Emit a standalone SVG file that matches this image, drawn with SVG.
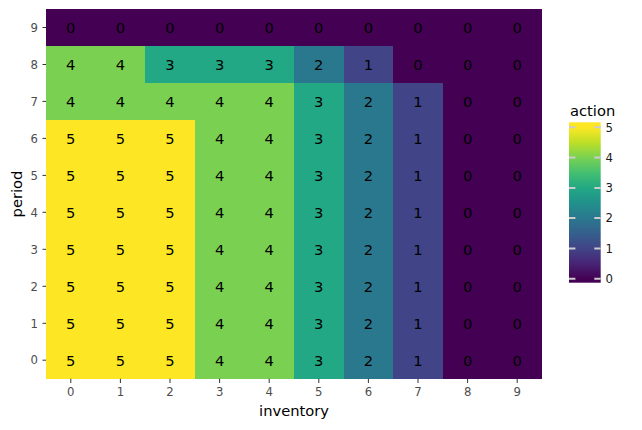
<svg xmlns="http://www.w3.org/2000/svg" width="642" height="430" viewBox="0 0 642 430">
<style>
text{font-family:"DejaVu Sans","Liberation Sans",sans-serif}
.c0{fill:#440154}.c1{fill:#414487}.c2{fill:#2a788e}.c3{fill:#22a884}.c4{fill:#7ad151}.c5{fill:#fde725}
.cells rect{shape-rendering:crispEdges}
.v{font-size:14.7px;fill:#000;text-anchor:middle}
.tk{font-size:11.7px;fill:#4d4d4d}
.tl{stroke:#333;stroke-width:1}
.ttl{font-size:14.7px;fill:#000}
.cbt{stroke:#cccccc;stroke-width:2}
.cbl{font-size:11.7px;fill:#1a1a1a}
</style>
<defs>
<linearGradient id="vir" gradientUnits="userSpaceOnUse" x1="0" y1="278.7" x2="0" y2="127.3">
<stop offset="0" stop-color="#440154"/><stop offset="0.1" stop-color="#482475"/><stop offset="0.2" stop-color="#414487"/><stop offset="0.3" stop-color="#355f8d"/><stop offset="0.4" stop-color="#2a788e"/><stop offset="0.5" stop-color="#21918c"/><stop offset="0.6" stop-color="#22a884"/><stop offset="0.7" stop-color="#44bf70"/><stop offset="0.8" stop-color="#7ad151"/><stop offset="0.9" stop-color="#bddf26"/><stop offset="1" stop-color="#fde725"/>
</linearGradient>
</defs>
<rect width="642" height="430" fill="#fff"/>
<g id="cells" class="cells">
<!-- row 9 -->
<rect class="c0" x="46" y="9" width="496" height="37"/>
<!-- row 8 -->
<rect class="c4" x="46" y="46" width="99.2" height="37"/>
<rect class="c3" x="145.2" y="46" width="148.8" height="37"/>
<rect class="c2" x="294" y="46" width="49.6" height="37"/>
<rect class="c1" x="343.6" y="46" width="49.6" height="37"/>
<rect class="c0" x="393.2" y="46" width="148.8" height="37"/>
<!-- row 7 -->
<rect class="c4" x="46" y="82.9" width="248" height="37"/>
<rect class="c3" x="294" y="82.9" width="49.6" height="37"/>
<rect class="c2" x="343.6" y="82.9" width="49.6" height="37"/>
<rect class="c1" x="393.2" y="82.9" width="49.6" height="37"/>
<rect class="c0" x="442.8" y="82.9" width="99.2" height="37"/>
<!-- rows 6-0 -->
<rect class="c5" x="46" y="119.9" width="148.8" height="258.8"/>
<rect class="c4" x="194.8" y="119.9" width="99.2" height="258.8"/>
<rect class="c3" x="294" y="119.9" width="49.6" height="258.8"/>
<rect class="c2" x="343.6" y="119.9" width="49.6" height="258.8"/>
<rect class="c1" x="393.2" y="119.9" width="49.6" height="258.8"/>
<rect class="c0" x="442.8" y="119.9" width="99.2" height="258.8"/>
</g>
<g id="values">
<g id="row9"><text class="v" x="70.8" y="32.8">0</text><text class="v" x="120.4" y="32.8">0</text><text class="v" x="170" y="32.8">0</text><text class="v" x="219.6" y="32.8">0</text><text class="v" x="269.2" y="32.8">0</text><text class="v" x="318.8" y="32.8">0</text><text class="v" x="368.4" y="32.8">0</text><text class="v" x="418" y="32.8">0</text><text class="v" x="467.6" y="32.8">0</text><text class="v" x="517.2" y="32.8">0</text></g>
<g id="row8"><text class="v" x="70.8" y="69.8">4</text><text class="v" x="120.4" y="69.8">4</text><text class="v" x="170" y="69.8">3</text><text class="v" x="219.6" y="69.8">3</text><text class="v" x="269.2" y="69.8">3</text><text class="v" x="318.8" y="69.8">2</text><text class="v" x="368.4" y="69.8">1</text><text class="v" x="418" y="69.8">0</text><text class="v" x="467.6" y="69.8">0</text><text class="v" x="517.2" y="69.8">0</text></g>
<g id="row7"><text class="v" x="70.8" y="106.7">4</text><text class="v" x="120.4" y="106.7">4</text><text class="v" x="170" y="106.7">4</text><text class="v" x="219.6" y="106.7">4</text><text class="v" x="269.2" y="106.7">4</text><text class="v" x="318.8" y="106.7">3</text><text class="v" x="368.4" y="106.7">2</text><text class="v" x="418" y="106.7">1</text><text class="v" x="467.6" y="106.7">0</text><text class="v" x="517.2" y="106.7">0</text></g>
<g id="row6"><text class="v" x="70.8" y="143.7">5</text><text class="v" x="120.4" y="143.7">5</text><text class="v" x="170" y="143.7">5</text><text class="v" x="219.6" y="143.7">4</text><text class="v" x="269.2" y="143.7">4</text><text class="v" x="318.8" y="143.7">3</text><text class="v" x="368.4" y="143.7">2</text><text class="v" x="418" y="143.7">1</text><text class="v" x="467.6" y="143.7">0</text><text class="v" x="517.2" y="143.7">0</text></g>
<g id="row5"><text class="v" x="70.8" y="180.7">5</text><text class="v" x="120.4" y="180.7">5</text><text class="v" x="170" y="180.7">5</text><text class="v" x="219.6" y="180.7">4</text><text class="v" x="269.2" y="180.7">4</text><text class="v" x="318.8" y="180.7">3</text><text class="v" x="368.4" y="180.7">2</text><text class="v" x="418" y="180.7">1</text><text class="v" x="467.6" y="180.7">0</text><text class="v" x="517.2" y="180.7">0</text></g>
<g id="row4"><text class="v" x="70.8" y="217.6">5</text><text class="v" x="120.4" y="217.6">5</text><text class="v" x="170" y="217.6">5</text><text class="v" x="219.6" y="217.6">4</text><text class="v" x="269.2" y="217.6">4</text><text class="v" x="318.8" y="217.6">3</text><text class="v" x="368.4" y="217.6">2</text><text class="v" x="418" y="217.6">1</text><text class="v" x="467.6" y="217.6">0</text><text class="v" x="517.2" y="217.6">0</text></g>
<g id="row3"><text class="v" x="70.8" y="254.6">5</text><text class="v" x="120.4" y="254.6">5</text><text class="v" x="170" y="254.6">5</text><text class="v" x="219.6" y="254.6">4</text><text class="v" x="269.2" y="254.6">4</text><text class="v" x="318.8" y="254.6">3</text><text class="v" x="368.4" y="254.6">2</text><text class="v" x="418" y="254.6">1</text><text class="v" x="467.6" y="254.6">0</text><text class="v" x="517.2" y="254.6">0</text></g>
<g id="row2"><text class="v" x="70.8" y="291.6">5</text><text class="v" x="120.4" y="291.6">5</text><text class="v" x="170" y="291.6">5</text><text class="v" x="219.6" y="291.6">4</text><text class="v" x="269.2" y="291.6">4</text><text class="v" x="318.8" y="291.6">3</text><text class="v" x="368.4" y="291.6">2</text><text class="v" x="418" y="291.6">1</text><text class="v" x="467.6" y="291.6">0</text><text class="v" x="517.2" y="291.6">0</text></g>
<g id="row1"><text class="v" x="70.8" y="328.6">5</text><text class="v" x="120.4" y="328.6">5</text><text class="v" x="170" y="328.6">5</text><text class="v" x="219.6" y="328.6">4</text><text class="v" x="269.2" y="328.6">4</text><text class="v" x="318.8" y="328.6">3</text><text class="v" x="368.4" y="328.6">2</text><text class="v" x="418" y="328.6">1</text><text class="v" x="467.6" y="328.6">0</text><text class="v" x="517.2" y="328.6">0</text></g>
<g id="row0"><text class="v" x="70.8" y="365.5">5</text><text class="v" x="120.4" y="365.5">5</text><text class="v" x="170" y="365.5">5</text><text class="v" x="219.6" y="365.5">4</text><text class="v" x="269.2" y="365.5">4</text><text class="v" x="318.8" y="365.5">3</text><text class="v" x="368.4" y="365.5">2</text><text class="v" x="418" y="365.5">1</text><text class="v" x="467.6" y="365.5">0</text><text class="v" x="517.2" y="365.5">0</text></g>
</g>
<g id="y-axis">
<path class="tl" d="M42.5 27.5H46M42.5 64.5H46M42.5 101.4H46M42.5 138.4H46M42.5 175.4H46M42.5 212.3H46M42.5 249.3H46M42.5 286.3H46M42.5 323.3H46M42.5 360.2H46"/>
<g class="tk" text-anchor="end">
<text x="38" y="31.7">9</text><text x="38" y="68.7">8</text><text x="38" y="105.6">7</text><text x="38" y="142.6">6</text><text x="38" y="179.6">5</text><text x="38" y="216.5">4</text><text x="38" y="253.5">3</text><text x="38" y="290.5">2</text><text x="38" y="327.5">1</text><text x="38" y="364.4">0</text>
</g>
<text class="ttl" text-anchor="middle" transform="translate(22,194) rotate(-90)">period</text>
</g>
<g id="x-axis">
<path class="tl" d="M70.8 378.7V383M120.4 378.7V383M170 378.7V383M219.6 378.7V383M269.2 378.7V383M318.8 378.7V383M368.4 378.7V383M418 378.7V383M467.6 378.7V383M517.2 378.7V383"/>
<g class="tk" text-anchor="middle">
<text x="70.8" y="395.7">0</text><text x="120.4" y="395.7">1</text><text x="170" y="395.7">2</text><text x="219.6" y="395.7">3</text><text x="269.2" y="395.7">4</text><text x="318.8" y="395.7">5</text><text x="368.4" y="395.7">6</text><text x="418" y="395.7">7</text><text x="467.6" y="395.7">8</text><text x="517.2" y="395.7">9</text>
</g>
<text class="ttl" x="294" y="416" text-anchor="middle">inventory</text>
</g>
<g id="legend">
<text class="ttl" x="570" y="115.7">action</text>
<rect x="569" y="122.3" width="31.7" height="160.4" fill="url(#vir)"/>
<path class="cbt" d="M569 278.7h6.4M594.3 278.7h6.4M569 248.4h6.4M594.3 248.4h6.4M569 218.1h6.4M594.3 218.1h6.4M569 187.9h6.4M594.3 187.9h6.4M569 157.6h6.4M594.3 157.6h6.4M569 127.3h6.4M594.3 127.3h6.4"/>
<g class="cbl">
<text x="605.5" y="282.9">0</text><text x="605.5" y="252.6">1</text><text x="605.5" y="222.3">2</text><text x="605.5" y="192.1">3</text><text x="605.5" y="161.8">4</text><text x="605.5" y="131.5">5</text>
</g>
</g>
</svg>
